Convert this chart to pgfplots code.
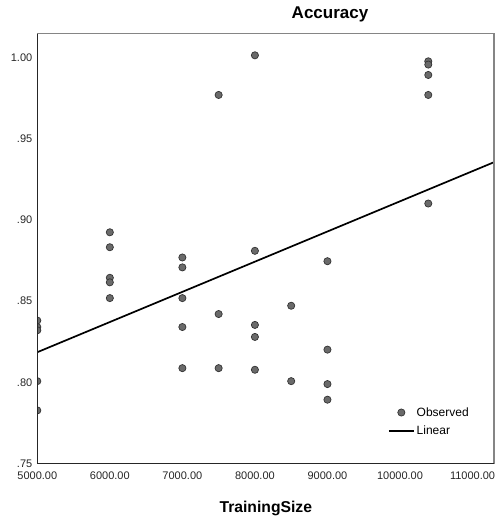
\documentclass[border=0pt]{standalone}
\usepackage{pgfplots}
\pgfplotsset{compat=1.18}
\usepackage{fontspec}
\setmainfont{Liberation Sans}
\definecolor{dotfill}{HTML}{6A6A6A}
\definecolor{dotedge}{HTML}{333333}
\definecolor{boxgray}{HTML}{858585}
\pgfplotsset{
  legmark/.style={legend image code/.code={\draw[mark repeat=2, mark phase=2, ##1] plot coordinates {(0bp,0bp) (12.5bp,0bp) (25bp,0bp)};}},
  legline/.style={legend image code/.code={\draw[##1] (0bp,0bp) -- (25bp,0bp);}},
}
\begin{document}
\begin{tikzpicture}
\begin{axis}[
  scale only axis,
  width=457bp, height=430bp,
  xmin=5000, xmax=11300,
  ymin=0.7499, ymax=1.0145,
  axis line style={draw=none},
  major tick length=0pt,
  scaled x ticks=false, scaled y ticks=false,
  xtick={5000,6000,7000,8000,9000,10000,11000},
  xticklabels={5000.00,6000.00,7000.00,8000.00,9000.00,10000.00,11000.00},
  ytick={0.75,0.80,0.85,0.90,0.95,1.00},
  yticklabels={.75,.80,.85,.90,.95,1.00},
  /pgf/number format/assume math mode=true,
  ticklabel style={font=\fontsize{11bp}{13bp}\selectfont, text=black!85},
  xticklabel style={anchor=base, yshift=-16bp},
  yticklabel style={anchor=east, xshift=-1.5bp},
  title={Accuracy},
  title style={at={(axis description cs:0.6405,1)}, anchor=base, yshift=9.7bp,
    font=\bfseries\fontsize{17bp}{19bp}\selectfont},
  xlabel={TrainingSize},
  xlabel style={at={(axis description cs:0.5,0)}, anchor=base, yshift=-49bp,
    font=\bfseries\fontsize{15.7bp}{18bp}\selectfont},
  clip marker paths=true,
  legend style={draw=none, fill=none, inner sep=0pt,
    at={(axis description cs:0.767,0.136)}, anchor=north west,
    font=\fontsize{12bp}{14bp}\selectfont, row sep=4.5bp,
    nodes={inner sep=2bp}},
  legend cell align=left,
  after end axis/.code={
    \draw[boxgray, line width=1.6bp] (axis description cs:0,1) -- (axis description cs:1,1) -- (axis description cs:1,0);
    \draw[black!85, line width=1.1bp] (axis description cs:0,1) -- (axis description cs:0,0) -- (axis description cs:1,0);
  },
]
\addplot[only marks, mark=*, mark size=3.6bp,
  mark options={fill=dotfill, draw=dotedge, line width=0.7bp}, legmark]
coordinates {
  (5000,0.838) (5000,0.834) (5000,0.832) (5000,0.8007) (5000,0.7827)
  (6000,0.8923) (6000,0.8831) (6000,0.8643) (6000,0.8615) (6000,0.8518)
  (7000,0.8768) (7000,0.8707) (7000,0.8518) (7000,0.8340) (7000,0.8087)
  (7500,0.9768) (7500,0.8420) (7500,0.8087)
  (8000,1.0012) (8000,0.8809) (8000,0.8353) (8000,0.8279) (8000,0.8077)
  (8500,0.8471) (8500,0.8007)
  (9000,0.8745) (9000,0.8201) (9000,0.7989) (9000,0.7893)
  (10390,0.9975) (10390,0.9955) (10390,0.9891) (10390,0.9768) (10390,0.9100)
};
\addlegendentry{Observed}
\addplot[black, line width=1.7bp, legline]
coordinates {(5000,0.8185) (11300,0.9355)};
\addlegendentry{Linear}
\end{axis}
\pgfresetboundingbox
\path[use as bounding box] (-37.3bp,-53.3bp) rectangle (458.7bp,463.7bp);
\end{tikzpicture}
\end{document}
